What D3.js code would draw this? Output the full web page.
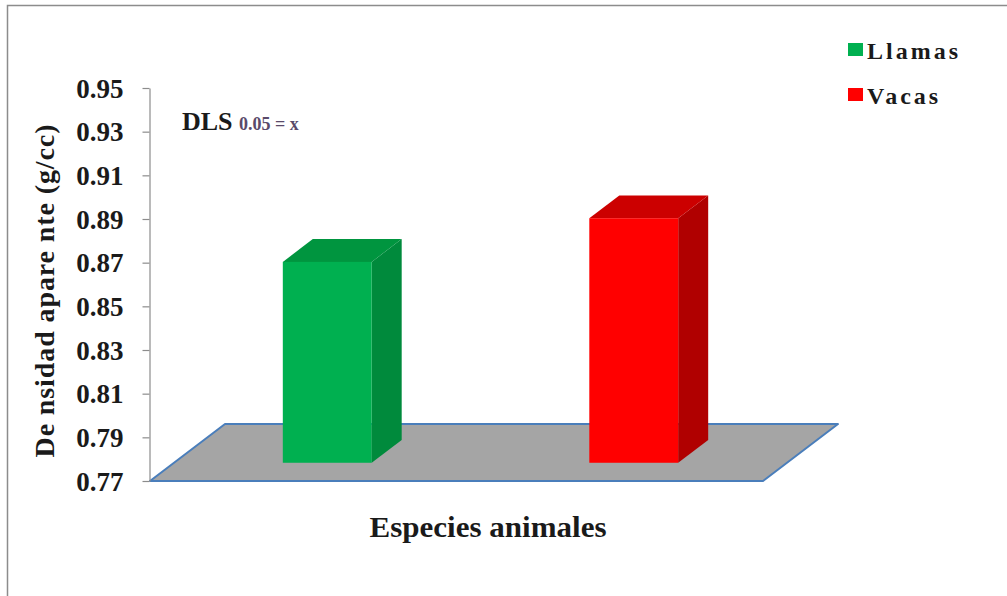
<!DOCTYPE html>
<html>
<head>
<meta charset="utf-8">
<script src="https://cdn.jsdelivr.net/npm/d3@7"></script>
<style>
  html, body { margin: 0; padding: 0; background: #ffffff; }
  svg { display: block; }
  text { font-family: "Liberation Serif", "Times New Roman", serif; font-weight: bold; }
</style>
</head>
<body>
<svg id="chart" width="1007" height="596"></svg>
<script>
// Apparent density by animal species
const categories = ["Llamas", "Vacas"];
const densities = [0.862, 0.882];
const seriesColors = ["#00b050", "#ff0000"];
const sideColors = ["#008a3c", "#b00000"];
const topColors = ["#00953f", "#cc0000"];
const yTicks = [0.77, 0.79, 0.81, 0.83, 0.85, 0.87, 0.89, 0.91, 0.93, 0.95];
const yDomain = [0.77, 0.95];

const svg = d3.select("#chart");

// frame
svg.append("path")
  .attr("d", "M7.5,596 L7.5,5.5 L1007,5.5")
  .attr("fill", "none")
  .attr("stroke", "#8c8c8c")
  .attr("stroke-width", 1.5);

const x = d3.scaleBand().domain(categories).range([150, 763]).padding(0);
const y = d3.scaleLinear().domain(yDomain).range([481, 88]);

// depth of the floor (perspective offset) and the bars' place inside it
const depth = { dx: 75, dy: -57 };
const frontFrac = 0.32, backFrac = 0.72;
const fdx = depth.dx * frontFrac, fdy = depth.dy * frontFrac;
const bdx = depth.dx * backFrac, bdy = depth.dy * backFrac;
const barW = x.bandwidth() * 0.29;

// floor
const [fx0, fx1] = x.range();
const fy = y(yDomain[0]);
svg.append("polygon")
  .attr("points", [
    [fx0, fy], [fx1, fy], [fx1 + depth.dx, fy + depth.dy], [fx0 + depth.dx, fy + depth.dy]
  ].map(p => p.join(",")).join(" "))
  .attr("fill", "#a5a5a5")
  .attr("stroke", "#4a7ebb")
  .attr("stroke-width", 2)
  .attr("stroke-linejoin", "round");

// axis
const axis = d3.axisLeft(y)
  .tickValues(yTicks)
  .tickFormat(d3.format(".2f"))
  .tickSize(7)
  .tickPadding(19)
  .tickSizeOuter(0);
const gAxis = svg.append("g")
  .attr("transform", "translate(149.5,0)")
  .call(axis);
gAxis.select(".domain").attr("stroke", "#8c8c8c").attr("stroke-width", 1.2);
gAxis.selectAll(".tick line").attr("stroke", "#8c8c8c").attr("stroke-width", 1.2);
gAxis.selectAll(".tick text")
  .attr("fill", "#1a1a1a")
  .style("font-size", "27px")
  .style("font-family", "'Liberation Serif', 'Times New Roman', serif")
  .style("font-weight", "bold")
  .attr("dy", "0.34em");

// 3D columns
const y0 = y(yDomain[0]);
const bars = svg.append("g").selectAll("g")
  .data(categories.map((c, i) => ({ c, v: densities[i], i })))
  .join("g");

bars.each(function (d) {
  const g = d3.select(this);
  const L = x(d.c) + (x.bandwidth() - barW) / 2;
  const R = L + barW;
  const yv = y(d.v);
  const pts = a => a.map(p => p.join(",")).join(" ");
  // side face
  g.append("polygon")
    .attr("points", pts([[R + fdx, yv + fdy], [R + bdx, yv + bdy], [R + bdx, y0 + bdy], [R + fdx, y0 + fdy]]))
    .attr("fill", sideColors[d.i]);
  // top face
  g.append("polygon")
    .attr("points", pts([[L + fdx, yv + fdy], [R + fdx, yv + fdy], [R + bdx, yv + bdy], [L + bdx, yv + bdy]]))
    .attr("fill", topColors[d.i]);
  // front face
  g.append("rect")
    .attr("x", L + fdx)
    .attr("y", yv + fdy)
    .attr("width", barW)
    .attr("height", y0 - yv)
    .attr("fill", seriesColors[d.i]);
});

// axis titles
svg.append("text")
  .attr("transform", "translate(54,291) rotate(-90)")
  .attr("text-anchor", "middle")
  .attr("fill", "#1a1a1a")
  .style("font-size", "28px")
  .attr("textLength", 333)
  .attr("lengthAdjust", "spacing")
  .text("De nsidad apare nte (g/cc)");

svg.append("text")
  .attr("x", 488)
  .attr("y", 537)
  .attr("text-anchor", "middle")
  .attr("fill", "#1a1a1a")
  .style("font-size", "30px")
  .attr("textLength", 237)
  .attr("lengthAdjust", "spacingAndGlyphs")
  .text("Especies animales");

// DLS annotation
const dls = svg.append("text")
  .attr("x", 182)
  .attr("y", 130)
  .attr("fill", "#1a1a1a");
dls.append("tspan").style("font-size", "26px").text("DLS ");
dls.append("tspan").style("font-size", "18px").attr("fill", "#5a4a6a").text("0.05 = x");

// legend
const legend = svg.append("g").selectAll("g")
  .data(categories)
  .join("g")
  .attr("transform", (d, i) => `translate(848,${43 + i * 45})`);
legend.append("rect")
  .attr("width", 15)
  .attr("height", 13)
  .attr("fill", (d, i) => seriesColors[i]);
legend.append("text")
  .attr("x", 19)
  .attr("y", 16)
  .attr("fill", "#1a1a1a")
  .style("font-size", "24px")
  .style("letter-spacing", "3px")
  .text(d => d);
</script>
</body>
</html>
